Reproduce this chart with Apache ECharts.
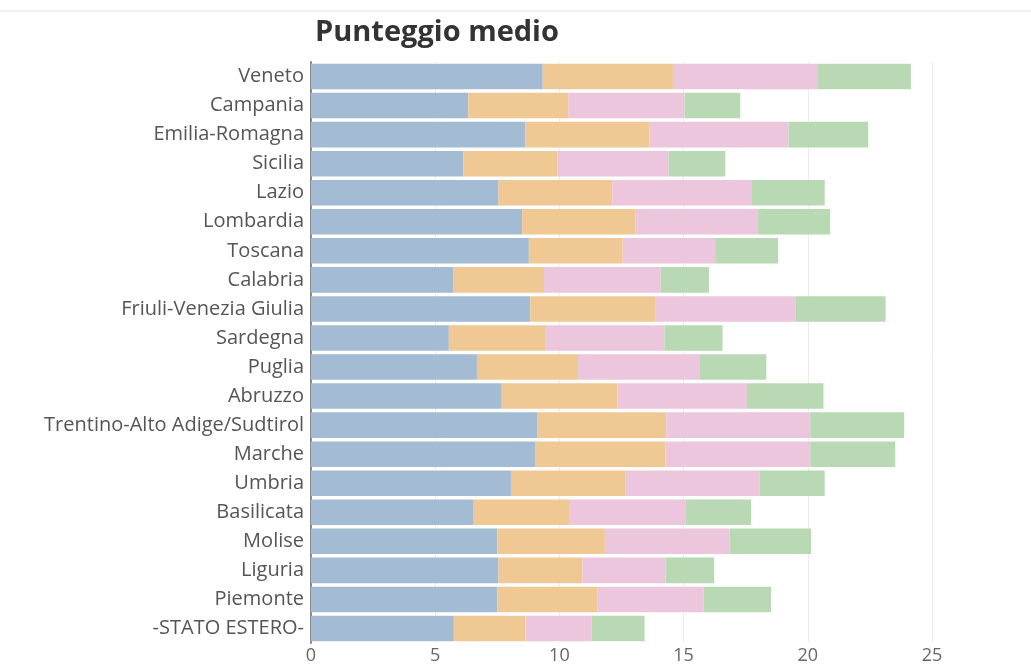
<!DOCTYPE html>
<html>
<head>
<meta charset="utf-8">
<script src="https://cdn.jsdelivr.net/npm/echarts@6/dist/echarts.min.js"></script>
<style>
  html, body { margin: 0; padding: 0; background: #fff; }
  #chart { width: 1031px; height: 665px; }
</style>
</head>
<body>
<div id="chart"></div>
<script>
// Regions, top to bottom
const regions = [
  'Veneto', 'Campania', 'Emilia-Romagna', 'Sicilia', 'Lazio', 'Lombardia',
  'Toscana', 'Calabria', 'Friuli-Venezia Giulia', 'Sardegna', 'Puglia',
  'Abruzzo', 'Trentino-Alto Adige/Sudtirol', 'Marche', 'Umbria', 'Basilicata',
  'Molise', 'Liguria', 'Piemonte', '-STATO ESTERO-'
];

// Score components per region (stacked)
const part1 = [9.33, 6.33, 8.63, 6.13, 7.55, 8.50, 8.77, 5.72, 8.83, 5.55, 6.68, 7.68, 9.10, 9.02, 8.05, 6.55, 7.50, 7.55, 7.50, 5.75];
const part2 = [5.24, 4.04, 5.00, 3.80, 4.58, 4.57, 3.78, 3.66, 5.05, 3.87, 4.07, 4.65, 5.20, 5.25, 4.62, 3.87, 4.33, 3.38, 4.02, 2.88];
const part3 = [5.81, 4.66, 5.59, 4.47, 5.62, 4.90, 3.72, 4.70, 5.62, 4.81, 4.88, 5.22, 5.80, 5.83, 5.38, 4.68, 5.02, 3.34, 4.28, 2.67];
const part4 = [3.77, 2.25, 3.21, 2.28, 2.93, 2.93, 2.53, 1.94, 3.63, 2.34, 2.70, 3.08, 3.78, 3.42, 2.63, 2.62, 3.28, 1.96, 2.72, 2.13];

const xTicks = [0, 5, 10, 15, 20, 25];

const colors = ['#a3bcd4', '#efc893', '#ebc6dc', '#b8d9b4'];
const parts = [part1, part2, part3, part4];

const chart = echarts.init(document.getElementById('chart'), null, { renderer: 'canvas' });

chart.setOption({
  animation: false,
  backgroundColor: '#ffffff',
  title: {
    text: 'Punteggio medio',
    left: 310,
    top: 13,
    textStyle: {
      fontFamily: 'Open Sans',
      fontSize: 29,
      fontWeight: 'bold',
      color: '#333333'
    }
  },
  graphic: [{
    type: 'line',
    shape: { x1: 0, y1: 11, x2: 1031, y2: 11 },
    style: { stroke: '#e6e6e6', lineWidth: 1 }
  }],
  grid: { left: 311, right: 99, top: 62, bottom: 22, containLabel: false },
  xAxis: {
    type: 'value',
    min: xTicks[0],
    max: xTicks[xTicks.length - 1],
    interval: xTicks[1] - xTicks[0],
    axisLine: { show: false },
    axisTick: { show: false },
    splitLine: { show: true, lineStyle: { color: '#ececec', width: 1 } },
    axisLabel: {
      fontFamily: 'Open Sans',
      fontSize: 18,
      color: '#666666',
      margin: 4
    }
  },
  yAxis: {
    type: 'category',
    data: regions,
    inverse: true,
    axisLine: { show: true, lineStyle: { color: '#8a8a8a', width: 2 } },
    axisTick: { show: false },
    axisLabel: {
      fontFamily: 'Open Sans',
      fontSize: 20,
      color: '#555555',
      margin: 7
    }
  },
  series: parts.map((p, i) => ({
    type: 'bar',
    stack: 'total',
    data: p,
    barCategoryGap: '12%',
    itemStyle: { color: colors[i] },
    emphasis: { disabled: true }
  }))
});
</script>
</body>
</html>
